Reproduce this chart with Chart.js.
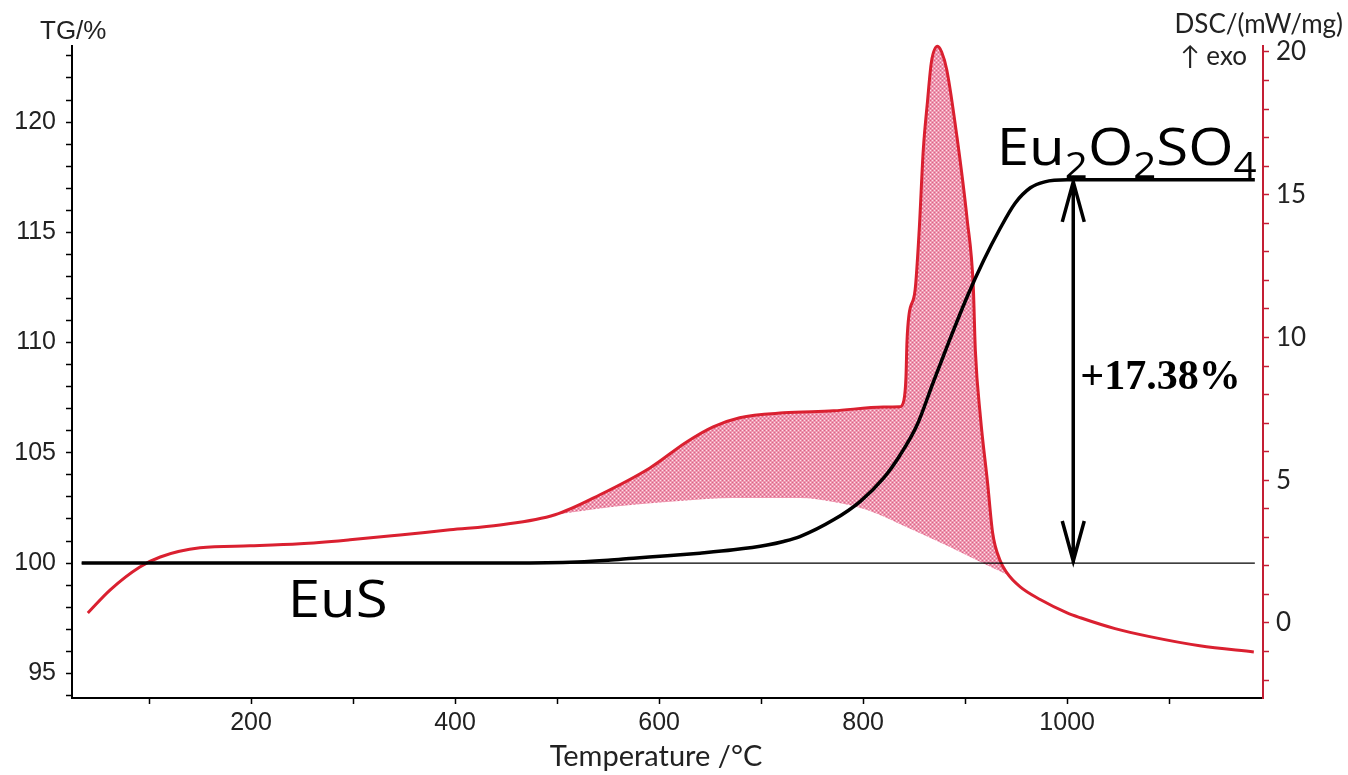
<!DOCTYPE html>
<html>
<head>
<meta charset="utf-8">
<title>TG-DSC EuS</title>
<script src="https://cdn.jsdelivr.net/npm/chart.js@4.4.1/dist/chart.umd.min.js"></script>
<style>
  html, body { margin: 0; padding: 0; background: #fff; }
  #wrap { width: 1348px; height: 775px; position: relative; }
</style>
</head>
<body>
<div id="wrap"><canvas id="tgdsc"></canvas></div>
<script>
// DSC signal, mW/mg
const dscTemp = [40, 62, 91, 111, 150, 199, 248, 297, 346, 395, 444, 498, 542, 591, 627, 653, 679, 722, 771, 820, 836,
  840, 842, 843, 845, 851, 855, 859, 863, 867, 873, 877, 882, 892, 902, 908, 910, 915, 922, 927, 934, 941, 954,
  974, 1000, 1013, 1047, 1081, 1130, 1183];
const dscSignal = [0.35, 1.16, 1.96, 2.31, 2.63, 2.7, 2.77, 2.91, 3.08, 3.26, 3.43, 3.79, 4.49, 5.43, 6.34, 6.87, 7.19, 7.36, 7.43, 7.56, 7.57,
  7.8, 8.6, 9.86, 10.8, 11.67, 13.77, 16.58, 18.23, 19.66, 20.2, 20.0, 19.38, 17.03, 14.13, 11.78, 9.57, 7.22, 4.91, 3.15, 2.21, 1.75, 1.26,
  0.81, 0.35, 0.18, -0.2, -0.48, -0.8, -1.02];

// integration baseline under the exothermic peak
const baseTemp = [498, 540, 575, 620, 673, 738, 771, 804, 845, 885, 920, 944];
const baseSignal = [3.79, 4.0, 4.14, 4.27, 4.38, 4.38, 4.24, 3.96, 3.32, 2.66, 2.05, 1.64];

// TG mass, %
const tgTemp = [34, 300, 450, 490, 520, 550, 575, 608, 640, 673, 706, 722, 738, 771, 797, 820, 836, 853, 869, 885, 902, 918, 934,
  949, 964, 978, 1000, 1184];
const tgMass = [100, 100, 100, 100.01, 100.05, 100.13, 100.22, 100.33, 100.45, 100.6, 100.82, 100.98, 101.2, 101.96, 102.79, 103.85, 104.88,
  106.27, 108.23, 110.14, 112.08, 113.71, 115.15, 116.32, 117.02, 117.29, 117.38, 117.38];

// reference line at the starting mass
const refTemp = [34, 1184];
const refMass = [100, 100];

const tgTicks = [95, 100, 105, 110, 115, 120];
const dscTicks = [0, 5, 10, 15, 20];
const tempTicks = [200, 400, 600, 800, 1000];

const massGain = 17.38;
const gainTemp = 1006;

const RED = 'rgb(218,32,48)';
const AXIS_RED = 'rgb(196,30,52)';

const toPts = (xs, ys) => xs.map((x, i) => ({ x: x, y: ys[i] }));

// fine pink cross-hatch for the peak area
function hatch(ctx) {
  const c = document.createElement('canvas');
  c.width = 4; c.height = 4;
  const g = c.getContext('2d');
  g.fillStyle = 'rgb(238,150,175)';
  g.fillRect(0, 0, 4, 4);
  g.fillStyle = 'rgb(252,224,232)';
  g.fillRect(0, 0, 1, 1); g.fillRect(2, 2, 1, 1);
  g.fillStyle = 'rgb(218,100,135)';
  g.fillRect(2, 0, 1, 1); g.fillRect(0, 2, 1, 1);
  return ctx.createPattern(c, 'repeat');
}

// text drawn a little wider than the font's own proportions
function wideText(ctx, text, px, py, font, stretch) {
  ctx.save();
  ctx.font = font;
  ctx.translate(px, py);
  ctx.scale(stretch, 1);
  ctx.fillText(text, 0, 0);
  const w = ctx.measureText(text).width * stretch;
  ctx.restore();
  return w;
}

const labels = {
  id: 'labels',
  afterDatasetsDraw(chart) {
    const { ctx, scales } = chart;
    const x = scales.x, y = scales.y;
    ctx.save();

    // double arrow for the mass gain
    const xp = x.getPixelForValue(gainTemp);
    const y0 = y.getPixelForValue(100);
    const y1 = y.getPixelForValue(100 + massGain);
    ctx.strokeStyle = '#000';
    ctx.lineWidth = 3.5;
    ctx.beginPath();
    ctx.moveTo(xp, y0); ctx.lineTo(xp, y1);
    ctx.moveTo(xp - 11, y1 + 42); ctx.lineTo(xp, y1 + 2); ctx.lineTo(xp + 11, y1 + 42);
    ctx.moveTo(xp - 11, y0 - 42); ctx.lineTo(xp, y0 - 2); ctx.lineTo(xp + 11, y0 - 42);
    ctx.stroke();

    ctx.fillStyle = '#000';
    ctx.textBaseline = 'middle';
    ctx.textAlign = 'left';
    ctx.font = "bold 42px 'Liberation Serif', serif";
    ctx.fillText('+' + massGain.toFixed(2) + '%', xp + 7, y.getPixelForValue(108.4));

    // phase labels
    ctx.textBaseline = 'alphabetic';
    const big = "52px 'Open Sans', sans-serif";
    const small = "36px 'Open Sans', sans-serif";
    wideText(ctx, 'EuS', x.getPixelForValue(236), y.getPixelForValue(97.55), big, 1.12);

    let px = x.getPixelForValue(931);
    const base = y.getPixelForValue(118.05);
    const parts = [['Eu', 0], ['2', 1], ['O', 0], ['2', 1], ['SO', 0], ['4', 1]];
    for (const [t, sub] of parts) {
      px += wideText(ctx, t, px, base + (sub ? 13 : 0), sub ? small : big, 1.12);
    }

    // axis titles
    ctx.textBaseline = 'middle';
    ctx.fillStyle = '#222';
    ctx.font = "26px 'Liberation Sans', Arial, sans-serif";
    ctx.fillText('TG/%', 40, 32);
    ctx.font = "26px Lato, sans-serif";
    ctx.textAlign = 'right';
    ctx.fillText('DSC/(mW/mg)', 1343, 25);
    ctx.fillText('\u2191 exo', 1247, 57);
    ctx.textAlign = 'center';
    ctx.font = "29px Lato, sans-serif";
    ctx.fillText('Temperature /\u00B0C', 656, 757);
    ctx.restore();
  }
};

const ctx = document.getElementById('tgdsc').getContext('2d');

new Chart(ctx, {
  type: 'line',
  data: {
    datasets: [
      { label: 'TG', data: toPts(tgTemp, tgMass), yAxisID: 'y', borderColor: '#000', borderWidth: 3.5 },
      { label: 'ref', data: toPts(refTemp, refMass), yAxisID: 'y', borderColor: '#000', borderWidth: 1.3 },
      { label: 'DSC', data: toPts(dscTemp, dscSignal), yAxisID: 'y2', borderColor: RED, borderWidth: 3, clip: false },
      {
        label: 'baseline', data: toPts(baseTemp, baseSignal), yAxisID: 'y2',
        borderWidth: 0, borderColor: 'rgba(0,0,0,0)', backgroundColor: hatch(ctx), fill: { target: 2 }
      }
    ]
  },
  options: {
    responsive: true,
    maintainAspectRatio: false,
    animation: false,
    elements: {
      point: { radius: 0 },
      line: { cubicInterpolationMode: 'monotone' }
    },
    layout: { padding: { top: 46, left: 0, right: 0, bottom: 0 } },
    plugins: { legend: { display: false }, tooltip: { enabled: false } },
    scales: {
      x: {
        type: 'linear', min: 24.5, max: 1192,
        afterFit: s => { s.height = 77; },
        border: { color: '#000', width: 2 },
        grid: { drawOnChartArea: false, tickLength: 6, tickColor: '#000', tickWidth: 1.5 },
        ticks: {
          stepSize: 100, includeBounds: false, autoSkip: false, maxRotation: 0, padding: 4,
          color: '#222', font: { family: "'Liberation Sans', Arial, sans-serif", size: 25 },
          callback: v => tempTicks.includes(v) ? String(v) : ''
        }
      },
      y: {
        position: 'left', min: 93.88, max: 123.45,
        afterFit: s => { s.width = 72; },
        border: { color: '#000', width: 2 },
        grid: { drawOnChartArea: false, tickLength: 6, tickColor: '#000', tickWidth: 1.5 },
        ticks: {
          stepSize: 1, includeBounds: false, autoSkip: false, padding: 10,
          color: '#222', font: { family: "'Liberation Sans', Arial, sans-serif", size: 25 },
          callback: v => tgTicks.includes(v) ? String(v) : ''
        }
      },
      y2: {
        position: 'right', min: -2.63, max: 20.21,
        afterFit: s => { s.width = 85; },
        border: { color: AXIS_RED, width: 2 },
        grid: { drawOnChartArea: false, tickLength: 6, tickColor: AXIS_RED, tickWidth: 1.5 },
        ticks: {
          stepSize: 1, includeBounds: false, autoSkip: false, padding: 7,
          color: '#222', font: { family: 'Lato, sans-serif', size: 26 },
          callback: v => dscTicks.includes(v) ? String(v) : ''
        }
      }
    }
  },
  plugins: [labels]
});
</script>
</body>
</html>
